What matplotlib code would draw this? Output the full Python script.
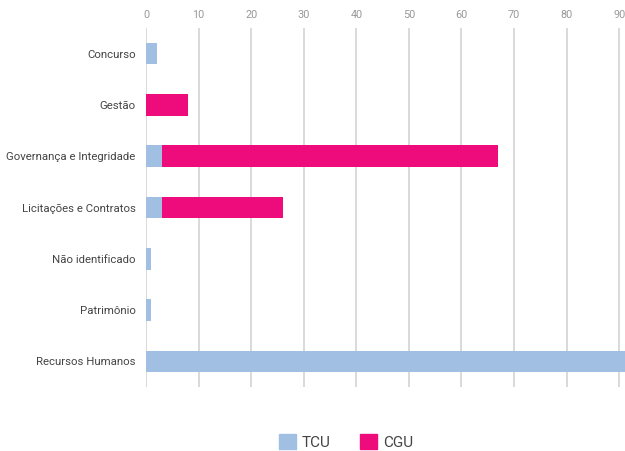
import matplotlib

matplotlib.use("Agg")
import matplotlib.pyplot as plt
import numpy as np
from matplotlib.patches import Patch

plt.rcParams["font.family"] = ["Roboto", "DejaVu Sans"]

categories = [
    "Concurso",
    "Gestão",
    "Governança e Integridade",
    "Licitações e Contratos",
    "Não identificado",
    "Patrimônio",
    "Recursos Humanos",
]
tcu = [2, 0, 3, 3, 1, 1, 110]
cgu = [0, 8, 64, 23, 0, 0, 0]
x_ticks = [0, 10, 20, 30, 40, 50, 60, 70, 80, 90]

TCU_COLOR = "#A1BFE3"
CGU_COLOR = "#EE0C7D"

fig = plt.figure(figsize=(6.25, 4.51), dpi=100)
ax = fig.add_axes([146 / 625, 64 / 451, 479 / 625, 359 / 451])

y = np.arange(len(categories))
ax.barh(y, tcu, height=0.42, color=TCU_COLOR, zorder=3)
ax.barh(y, cgu, left=tcu, height=0.42, color=CGU_COLOR, zorder=3)

ax.set_xlim(0, 91.1)
ax.set_ylim(len(categories) - 0.5, -0.5)
ax.set_yticks(y)
ax.set_yticklabels(categories, fontsize=8.2, color="#444444")
ax.set_xticks(x_ticks)
ax.set_xticklabels([str(t) for t in x_ticks], fontsize=7.8, color="#999999")
ax.xaxis.tick_top()
ax.tick_params(axis="both", length=0)
ax.tick_params(axis="x", pad=6)
ax.tick_params(axis="y", pad=7.5)
ax.grid(axis="x", color="#d9d9d9", lw=1.4, zorder=0)
for s in ax.spines.values():
    s.set_visible(False)

handles = [Patch(color=TCU_COLOR, label="TCU"), Patch(color=CGU_COLOR, label="CGU")]
fig.legend(handles=handles, loc="center", bbox_to_anchor=(346 / 625, 1 - 442 / 451),
           ncol=2, frameon=False, fontsize=11, handlelength=1.1, handleheight=1.1,
           columnspacing=1.9, handletextpad=0.4, labelcolor="#444444")

fig.savefig("out.png", dpi=100)
